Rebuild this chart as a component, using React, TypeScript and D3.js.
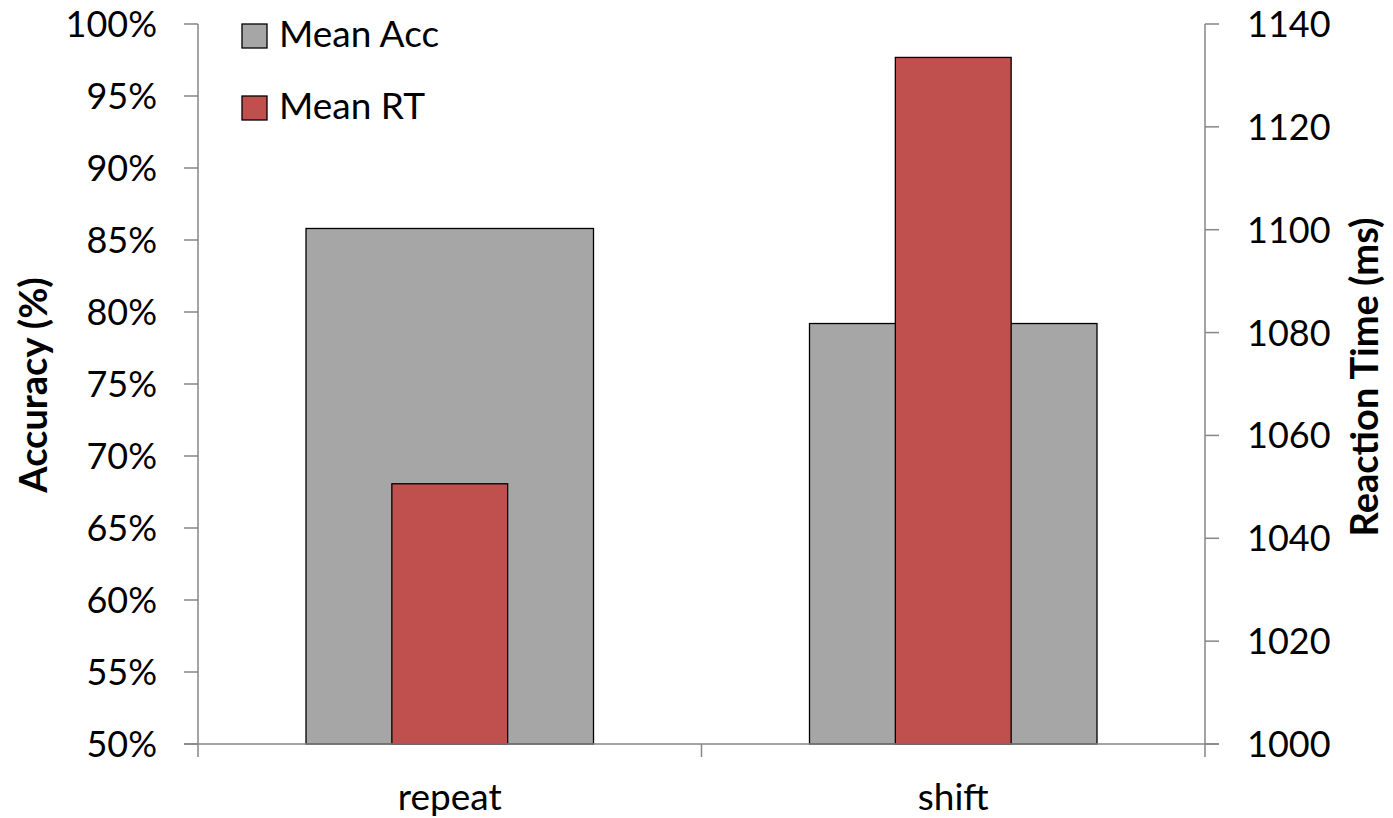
import React from "react";
import * as d3 from "d3";

const categories = ["repeat", "shift"];
const meanAcc = [0.858, 0.792];
const meanRT = [1050.6, 1133.5];
const accTicks = [0.5, 0.55, 0.6, 0.65, 0.7, 0.75, 0.8, 0.85, 0.9, 0.95, 1.0];
const rtTicks = [1000, 1020, 1040, 1060, 1080, 1100, 1120, 1140];
const legendItems = [
  { label: "Mean Acc", color: "#a6a6a6" },
  { label: "Mean RT", color: "#c0504d" },
];

const W = 1393;
const H = 818;
const left = 198;
const right = 1205;
const top = 24;
const bottom = 744;
const FONT = "Lato, 'Open Sans', sans-serif";
const AXIS = "#868686";

export default function App() {
  const x = d3.scaleBand<string>().domain(categories).range([left, right]).padding(0);
  const yAcc = d3.scaleLinear().domain([0.5, 1.0]).range([bottom, top]);
  const yRT = d3.scaleLinear().domain([1000, 1140]).range([bottom, top]);
  const bw = x.bandwidth();
  const grayW = bw * 0.571;
  const redW = bw * 0.23;
  const fmtPct = d3.format(".0%");

  return (
    <svg width={W} height={H} style={{ position: "absolute", left: 0, top: 0 }}>
      <rect width={W} height={H} fill="#fff" />
      {categories.map((c, i) => {
        const cx = (x(c) as number) + bw / 2;
        return (
          <g key={c}>
            <rect
              x={cx - grayW / 2}
              y={yAcc(meanAcc[i])}
              width={grayW}
              height={bottom - yAcc(meanAcc[i])}
              fill={legendItems[0].color}
              stroke="#000"
              strokeWidth={1.3}
            />
            <rect
              x={cx - redW / 2}
              y={yRT(meanRT[i])}
              width={redW}
              height={bottom - yRT(meanRT[i])}
              fill={legendItems[1].color}
              stroke="#000"
              strokeWidth={1.3}
            />
          </g>
        );
      })}
      <line x1={left} x2={left} y1={top} y2={bottom} stroke={AXIS} strokeWidth={1.5} />
      {accTicks.map((t) => (
        <g key={t}>
          <line x1={left - 14} x2={left} y1={yAcc(t)} y2={yAcc(t)} stroke={AXIS} strokeWidth={1.5} />
          <text x={157} y={yAcc(t)} dy="0.36em" textAnchor="end" fontFamily={FONT} fontSize={36} fill="#000">
            {fmtPct(t)}
          </text>
        </g>
      ))}
      <line x1={right} x2={right} y1={top} y2={bottom} stroke={AXIS} strokeWidth={1.5} />
      {rtTicks.map((t) => (
        <g key={t}>
          <line x1={right} x2={right + 14} y1={yRT(t)} y2={yRT(t)} stroke={AXIS} strokeWidth={1.5} />
          <text x={1247} y={yRT(t)} dy="0.36em" textAnchor="start" fontFamily={FONT} fontSize={36} fill="#000">
            {t}
          </text>
        </g>
      ))}
      <line x1={left - 14} x2={right + 14} y1={bottom} y2={bottom} stroke={AXIS} strokeWidth={1.5} />
      {[left, left + bw, right].map((xx, i) => (
        <line key={i} x1={xx} x2={xx} y1={bottom} y2={bottom + 13} stroke={AXIS} strokeWidth={1.5} />
      ))}
      {categories.map((c) => (
        <text
          key={c}
          x={(x(c) as number) + bw / 2}
          y={810}
          textAnchor="middle"
          fontFamily={FONT}
          fontSize={37}
          fill="#000"
        >
          {c}
        </text>
      ))}
      <text
        transform={`translate(47,385) rotate(-90)`}
        textAnchor="middle"
        fontFamily={FONT}
        fontWeight="bold"
        fontSize={38}
        fill="#000"
      >
        Accuracy (%)
      </text>
      <text
        transform={`translate(1378,377) rotate(-90)`}
        textAnchor="middle"
        fontFamily={FONT}
        fontWeight="bold"
        fontSize={38}
        fill="#000"
      >
        Reaction Time (ms)
      </text>
      {legendItems.map((it, i) => (
        <g key={it.label}>
          <rect x={242} y={24 + i * 72} width={25} height={24} fill={it.color} stroke="#000" strokeWidth={1.3} />
          <text x={279} y={47 + i * 72} fontFamily={FONT} fontSize={37} fill="#000">
            {it.label}
          </text>
        </g>
      ))}
    </svg>
  );
}
